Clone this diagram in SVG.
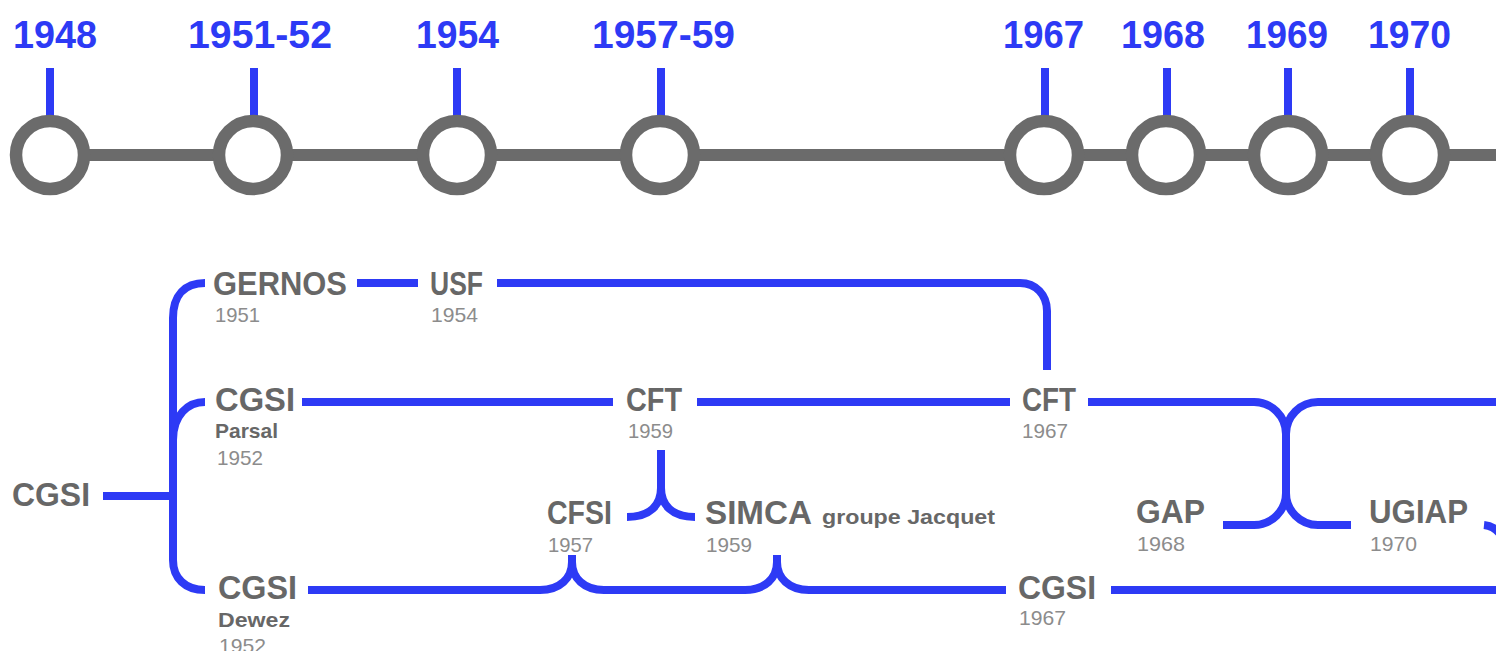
<svg xmlns="http://www.w3.org/2000/svg" width="1496" height="651" viewBox="0 0 1496 651">
<style>
.yr{font-family:"Liberation Sans",Arial,sans-serif;font-weight:bold;font-size:38px;fill:#2d3af5}
.tick{stroke:#2d3af5;stroke-width:8}
.ring{fill:#fff;stroke:#6b6b6b;stroke-width:12.5}
.base{stroke:#6b6b6b;stroke-width:12;fill:none}
.conn{stroke:#2d3af5;stroke-width:8;fill:none}
.nm{font-family:"Liberation Sans",Arial,sans-serif;font-weight:bold;font-size:33px;fill:#676767}
.sub{font-family:"Liberation Sans",Arial,sans-serif;font-weight:bold;font-size:21px;fill:#676767}
.dt{font-family:"Liberation Sans",Arial,sans-serif;font-size:21px;fill:#8c8c8c}
</style>
<g id="connectors">
<line class="base" x1="50" y1="155" x2="1496" y2="155"/>
<path class="conn" d="M103 496 H173"/>
<path class="conn" d="M205 283 C185 283 173 295 173 318 V560 C173 578 185 590 205 590"/>
<path class="conn" d="M173 440 C173 415 188 402 205 402"/>
<path class="conn" d="M357 283 H418"/>
<path class="conn" d="M497 283 H1020 C1036 283 1047 295 1047 311 V370"/>
<path class="conn" d="M302 402 H613"/>
<path class="conn" d="M697 402 H1010"/>
<path class="conn" d="M1088 402 H1254 A32 32 0 0 1 1286 434 V493 A32 32 0 0 1 1254 525 H1223"/>
<path class="conn" d="M1496 402 H1318 A32 32 0 0 0 1286 434 M1286 493 A32 32 0 0 0 1318 525 H1351"/>
<path class="conn" d="M1484 525 Q1494 526 1500 534"/>
<path class="conn" d="M661 450 V488 C661 505 650 517 627 517 M661 488 C661 505 672 517 695 517"/>
<path class="conn" d="M308 590 H540 C560 590 572 578 572 562 V555 M572 562 C572 578 584 590 604 590 H745 C765 590 777 578 777 562 V555 M777 562 C777 578 789 590 809 590 H1006"/>
<path class="conn" d="M1111 590 H1496"/>
</g>
<g id="y1948"><line class="tick" x1="50" y1="68" x2="50" y2="116"/><circle class="ring" cx="50" cy="155" r="34"/><text class="yr" x="13" y="48" textLength="84" lengthAdjust="spacingAndGlyphs">1948</text></g>
<g id="y1951"><line class="tick" x1="254" y1="68" x2="254" y2="116"/><circle class="ring" cx="253" cy="155" r="34"/><text class="yr" x="188" y="48" textLength="144" lengthAdjust="spacingAndGlyphs">1951-52</text></g>
<g id="y1954"><line class="tick" x1="457" y1="68" x2="457" y2="116"/><circle class="ring" cx="457" cy="155" r="34"/><text class="yr" x="416" y="48" textLength="83" lengthAdjust="spacingAndGlyphs">1954</text></g>
<g id="y1957"><line class="tick" x1="661" y1="68" x2="661" y2="116"/><circle class="ring" cx="660" cy="155" r="34"/><text class="yr" x="592" y="48" textLength="143" lengthAdjust="spacingAndGlyphs">1957-59</text></g>
<g id="y1967"><line class="tick" x1="1045" y1="68" x2="1045" y2="116"/><circle class="ring" cx="1044" cy="155" r="34"/><text class="yr" x="1003" y="48" textLength="81" lengthAdjust="spacingAndGlyphs">1967</text></g>
<g id="y1968"><line class="tick" x1="1167" y1="68" x2="1167" y2="116"/><circle class="ring" cx="1166" cy="155" r="34"/><text class="yr" x="1121" y="48" textLength="84" lengthAdjust="spacingAndGlyphs">1968</text></g>
<g id="y1969"><line class="tick" x1="1288" y1="68" x2="1288" y2="116"/><circle class="ring" cx="1288" cy="155" r="34"/><text class="yr" x="1246" y="48" textLength="82" lengthAdjust="spacingAndGlyphs">1969</text></g>
<g id="y1970"><line class="tick" x1="1410" y1="68" x2="1410" y2="116"/><circle class="ring" cx="1410" cy="155" r="34"/><text class="yr" x="1368" y="48" textLength="83" lengthAdjust="spacingAndGlyphs">1970</text></g>

<g id="n-cgsi-root"><text class="nm" x="12" y="506" textLength="78" lengthAdjust="spacingAndGlyphs">CGSI</text></g>
<g id="n-gernos"><text class="nm" x="213" y="295" textLength="134" lengthAdjust="spacingAndGlyphs">GERNOS</text><text class="dt" x="215" y="322" textLength="45" lengthAdjust="spacingAndGlyphs">1951</text></g>
<g id="n-usf"><text class="nm" x="430" y="295" textLength="53" lengthAdjust="spacingAndGlyphs">USF</text><text class="dt" x="431" y="322" textLength="47" lengthAdjust="spacingAndGlyphs">1954</text></g>
<g id="n-cgsi-parsal"><text class="nm" x="215" y="411" textLength="80" lengthAdjust="spacingAndGlyphs">CGSI</text><text class="sub" x="215" y="438" textLength="63" lengthAdjust="spacingAndGlyphs">Parsal</text><text class="dt" x="217" y="465" textLength="46" lengthAdjust="spacingAndGlyphs">1952</text></g>
<g id="n-cft-1959"><text class="nm" x="626" y="411" textLength="56" lengthAdjust="spacingAndGlyphs">CFT</text><text class="dt" x="628" y="438" textLength="45" lengthAdjust="spacingAndGlyphs">1959</text></g>
<g id="n-cft-1967"><text class="nm" x="1022" y="411" textLength="54" lengthAdjust="spacingAndGlyphs">CFT</text><text class="dt" x="1022" y="438" textLength="46" lengthAdjust="spacingAndGlyphs">1967</text></g>
<g id="n-cfsi"><text class="nm" x="547" y="524" textLength="65" lengthAdjust="spacingAndGlyphs">CFSI</text><text class="dt" x="548" y="552" textLength="45" lengthAdjust="spacingAndGlyphs">1957</text></g>
<g id="n-simca"><text class="nm" x="705" y="524" textLength="107" lengthAdjust="spacingAndGlyphs">SIMCA</text><text class="sub" x="822" y="524" font-size="24" textLength="173" lengthAdjust="spacingAndGlyphs">groupe Jacquet</text><text class="dt" x="706" y="552" textLength="46" lengthAdjust="spacingAndGlyphs">1959</text></g>
<g id="n-gap"><text class="nm" x="1136" y="523" textLength="69" lengthAdjust="spacingAndGlyphs">GAP</text><text class="dt" x="1137" y="551" textLength="48" lengthAdjust="spacingAndGlyphs">1968</text></g>
<g id="n-ugiap"><text class="nm" x="1369" y="523" textLength="99" lengthAdjust="spacingAndGlyphs">UGIAP</text><text class="dt" x="1370" y="551" textLength="47" lengthAdjust="spacingAndGlyphs">1970</text></g>
<g id="n-cgsi-dewez"><text class="nm" x="218" y="599" textLength="79" lengthAdjust="spacingAndGlyphs">CGSI</text><text class="sub" x="218" y="627" textLength="72" lengthAdjust="spacingAndGlyphs">Dewez</text><text class="dt" x="219" y="653" textLength="47" lengthAdjust="spacingAndGlyphs">1952</text></g>
<g id="n-cgsi-1967"><text class="nm" x="1018" y="599" textLength="78" lengthAdjust="spacingAndGlyphs">CGSI</text><text class="dt" x="1019" y="625" textLength="47" lengthAdjust="spacingAndGlyphs">1967</text></g>
</svg>
